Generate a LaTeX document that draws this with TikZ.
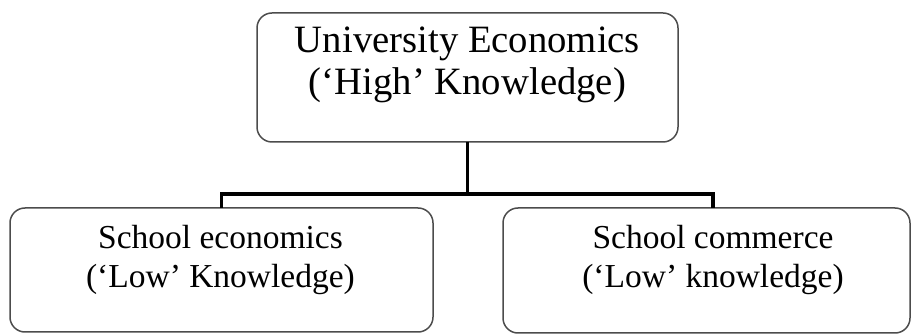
\documentclass[tikz,border=0pt]{standalone}
\usepackage{fontspec}
\setmainfont{Liberation Serif}
\begin{document}
\begin{tikzpicture}[x=1pt,y=-1pt,
  box/.style={draw=black!70,line width=1.5pt,rounded corners=15pt,fill=white,inner sep=0pt,outer sep=0pt},
  bigtxt/.style={inner sep=0pt,align=center,font=\fontsize{38.7}{42}\selectfont},
  smalltxt/.style={inner sep=0pt,align=center,font=\fontsize{33.5}{39}\selectfont},
  conn/.style={draw=black,line width=3.5pt,miter limit=10}]
\useasboundingbox (0,0) rectangle (915,336);
\node[box,minimum width=421pt,minimum height=129pt] (top) at (467.5,77.5) {};
\node[box,minimum width=423pt,minimum height=124pt] (left) at (221.5,270) {};
\node[box,minimum width=407pt,minimum height=125pt] (right) at (706.5,270.5) {};
\node[bigtxt] (toptxt) at (467.5,65) {University Economics\\(‘High’ Knowledge)};
\node[smalltxt] (lefttxt) at (220.5,259.5) {School economics\\(‘Low’ Knowledge)};
\node[smalltxt] (righttxt) at (713,259.5) {School commerce\\(‘Low’ knowledge)};
\coordinate (lc) at (221.5,194);
\coordinate (rc) at (713,194);
\coordinate (rt) at ([xshift=6.5pt]right.north);
\draw[conn] (left.north) -- (lc) -- (rc) -- (rt);
\draw[conn] (top.south) -- (top.south |- lc);
\end{tikzpicture}
\end{document}
